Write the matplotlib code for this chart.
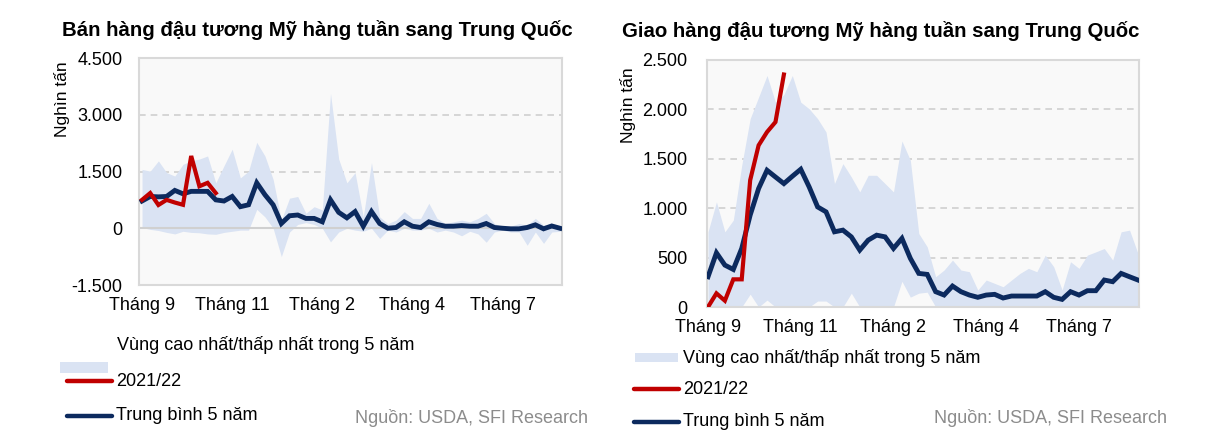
import numpy as np
import matplotlib
matplotlib.use("Agg")
import matplotlib.pyplot as plt
from matplotlib.lines import Line2D
from matplotlib.patches import Rectangle
from matplotlib.ticker import FuncFormatter

plt.rcParams['font.family'] = ['Liberation Sans', 'DejaVu Sans']

weeks = np.arange(52)
tick_pos = [0, 11, 22, 33, 44]
tick_labels = ["Tháng 9", "Tháng 11", "Tháng 2", "Tháng 4", "Tháng 7"]

# ---- Left chart: sales (thousand tonnes)
sales_avg = [720, 840, 830, 840, 1000, 910, 975, 975, 975, 750, 720, 840, 570, 620, 1200, 885,
             620, 125, 330, 350, 260, 260, 170, 750, 420, 275, 440, 54, 440, 125, 0, 20,
             170, 54, 20, 170, 100, 54, 54, 70, 54, 54, 125, 20, 0, -15, -15, 20, 90, -15, 60, 0]
sales_cur = [750, 930, 615, 750, 680, 620, 1910, 1110, 1200, 930]
sales_hi = [1555, 1510, 1780, 1470, 1380, 1690, 1780, 1830, 1910, 1200, 1650, 2090, 1330, 1510, 2270, 1910,
            1290, 215, 795, 840, 395, 570, 485, 3565, 1830, 1200, 1470, 300, 1735, 300, 125, 215,
            440, 260, 260, 660, 260, 125, 170, 215, 170, 260, 395, 125, 40, 55, 125, 80, 260, 80, 125, 40]
sales_lo = [20, -30, -60, -110, -150, -80, -110, -120, -150, -160, -110, -80, -50, -50, 500, 300,
            0, -750, -100, 100, 150, 100, 0, -360, -100, 0, -50, -80, 0, -270, -50, -100,
            0, -50, -50, 0, -100, -50, -100, -200, -80, -150, -370, -100, -50, -100, -100, -450, -100, -400, -100, -80]

# ---- Right chart: shipments (thousand tonnes)
ship_avg = [306, 548, 424, 380, 593, 930, 1199, 1384, 1316, 1249, 1323, 1394, 1215, 1013, 963, 761,
            778, 710, 576, 677, 727, 710, 593, 694, 492, 340, 330, 155, 121, 212, 155, 121,
            98, 121, 128, 91, 111, 111, 111, 111, 155, 98, 77, 155, 121, 165, 165, 273, 256, 340, 306, 273]
ship_cur = [0, 138, 64, 280, 280, 1283, 1636, 1771, 1872, 2353]
ship_hi = [761, 1064, 761, 879, 1434, 1906, 2124, 2343, 2073, 2150, 2343, 2073, 2006, 1906, 1771, 1250,
           1451, 1316, 1165, 1333, 1333, 1249, 1165, 1680, 1485, 744, 609, 306, 374, 475, 374, 357,
           172, 273, 239, 205, 273, 340, 391, 357, 525, 408, 172, 458, 391, 525, 558, 592, 475, 761, 778, 541]
ship_lo = [0, 0, 0, 0, 0, 130, 0, 70, 0, 0, 0, 0, 0, 60, 60, 0,
           0, 140, 0, 0, 0, 0, 0, 260, 100, 140, 150, 0, 0, 0, 0, 0,
           0, 0, 0, 0, 0, 0, 0, 0, 0, 0, 0, 0, 0, 0, 0, 0, 0, 0, 0, 0]

titles = ["Bán hàng đậu tương Mỹ hàng tuần sang Trung Quốc",
          "Giao hàng đậu tương Mỹ hàng tuần sang Trung Quốc"]
ylabel = "Nghìn tấn"
legend_labels = ["Vùng cao nhất/thấp nhất trong 5 năm", "2021/22", "Trung bình 5 năm"]
source = "Nguồn: USDA, SFI Research"

BAND = "#dae3f3"
NAVY = "#0c2a5e"
RED = "#c00000"
FRAME = "#d9d9d9"
BG = "#f9f9f9"

W, H = 1226, 442
fig = plt.figure(figsize=(W / 100, H / 100), dpi=100)

def fx(px):
    return px / W

def fy(py):
    return 1 - py / H

def thousands(v, pos):
    s = f"{abs(int(round(v))):,}".replace(",", ".")
    return ("-" if v < 0 else "") + s

def style_axes(ax, ylim, yticks, xlim, labelpad_y, labelpad_x):
    ax.set_facecolor(BG)
    ax.set_ylim(*ylim)
    ax.set_xlim(*xlim)
    ax.set_yticks(yticks)
    ax.yaxis.set_major_formatter(FuncFormatter(thousands))
    ax.set_xticks(tick_pos)
    ax.set_xticklabels(tick_labels)
    ax.tick_params(axis='both', length=0, labelsize=13, colors="#000000")
    ax.tick_params(axis='y', pad=labelpad_y)
    ax.tick_params(axis='x', pad=labelpad_x)
    for sp in ax.spines.values():
        sp.set_color(FRAME)
        sp.set_linewidth(1.5)
    for t in yticks:
        if t not in (ylim[0], ylim[1], 0):
            ax.axhline(t, color="#d0d0d0", lw=1.2, ls=(0, (4, 3)), zorder=1)

# Left axes
axL = fig.add_axes([fx(139), fy(285), fx(562 - 139), (285 - 58) / H])
style_axes(axL, (-1500, 4500), [-1500, 0, 1500, 3000, 4500], (-0.37, 51.25), 12, 9)
axL.fill_between(weeks, sales_lo, sales_hi, color=BAND, lw=0, zorder=2)
axL.axhline(0, color="#d0d0d0", lw=1.5, zorder=2.5)
axL.plot(weeks, sales_avg, color=NAVY, lw=3.5, zorder=3, solid_joinstyle='miter')
axL.plot(weeks[:len(sales_cur)], sales_cur, color=RED, lw=3.0, zorder=4, solid_joinstyle='miter')

# Right axes
axR = fig.add_axes([fx(707), fy(307), fx(1139 - 707), (307 - 60) / H])
style_axes(axR, (0, 2500), [0, 500, 1000, 1500, 2000, 2500], (-0.12, 51.12), 14, 9)
axR.fill_between(weeks, ship_lo, ship_hi, color=BAND, lw=0, zorder=2)
axR.plot(weeks, ship_avg, color=NAVY, lw=3.5, zorder=3, solid_joinstyle='miter')
axR.plot(weeks[:len(ship_cur)], ship_cur, color=RED, lw=3.0, zorder=4, solid_joinstyle='miter')

# Titles
fig.text(fx(62), fy(30), titles[0], fontsize=14.7, fontweight='bold', ha='left', va='center')
fig.text(fx(622), fy(31), titles[1], fontsize=14.7, fontweight='bold', ha='left', va='center')

# Y labels
fig.text(fx(62), fy(99), ylabel, fontsize=12.5, rotation=90, ha='center', va='center')
fig.text(fx(628), fy(105), ylabel, fontsize=12.5, rotation=90, ha='center', va='center')

# Left legend (manual)
fig.text(fx(117), fy(345), legend_labels[0], fontsize=13, ha='left', va='center')
fig.patches.append(Rectangle((fx(60), fy(373)), fx(48), 11 / H, transform=fig.transFigure,
                             facecolor=BAND, edgecolor='none'))
fig.lines.append(Line2D([fx(67), fx(112)], [fy(381), fy(381)], transform=fig.transFigure,
                        color=RED, lw=3.2, solid_capstyle='round'))
fig.text(fx(116), fy(381), legend_labels[1], fontsize=13, ha='left', va='center')
fig.lines.append(Line2D([fx(67), fx(112)], [fy(416), fy(416)], transform=fig.transFigure,
                        color=NAVY, lw=3.2, solid_capstyle='round'))
fig.text(fx(116), fy(416), legend_labels[2], fontsize=13, ha='left', va='center')
fig.text(fx(588), fy(418), source, fontsize=13, color="#8c8c8c", ha='right', va='center')

# Right legend (manual)
fig.patches.append(Rectangle((fx(635), fy(362)), fx(43), 9 / H, transform=fig.transFigure,
                             facecolor=BAND, edgecolor='none'))
fig.text(fx(683), fy(358), legend_labels[0], fontsize=13, ha='left', va='center')
fig.lines.append(Line2D([fx(634), fx(679)], [fy(389), fy(389)], transform=fig.transFigure,
                        color=RED, lw=3.2, solid_capstyle='round'))
fig.text(fx(683), fy(389), legend_labels[1], fontsize=13, ha='left', va='center')
fig.lines.append(Line2D([fx(634), fx(679)], [fy(422), fy(422)], transform=fig.transFigure,
                        color=NAVY, lw=3.2, solid_capstyle='round'))
fig.text(fx(683), fy(422), legend_labels[2], fontsize=13, ha='left', va='center')
fig.text(fx(1167), fy(418), source, fontsize=13, color="#8c8c8c", ha='right', va='center')

fig.savefig("out.png", dpi=100)
